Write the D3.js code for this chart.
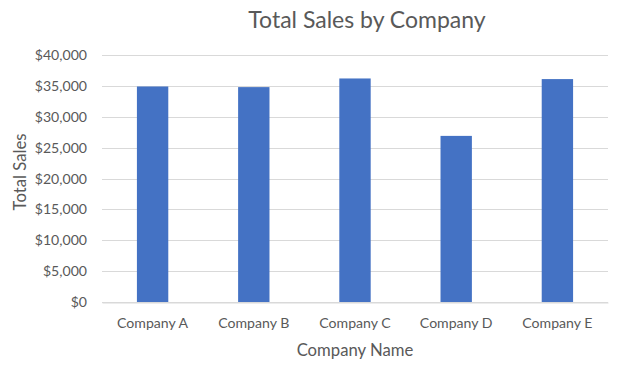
<!DOCTYPE html>
<html><head><meta charset="utf-8">
<script src="https://cdn.jsdelivr.net/npm/d3@7"></script>
<style>body{margin:0;background:#fff;} svg{display:block;} text{font-family:Lato,"Open Sans",sans-serif;}</style>
</head><body>
<svg id="c" width="624" height="369"></svg>
<script>
const categories = ["Company A","Company B","Company C","Company D","Company E"];
const sales = [34900, 34800, 36200, 26900, 36100];
const yTicks = [0,5000,10000,15000,20000,25000,30000,35000,40000];

const svg = d3.select("#c");
const m = {left:102, right:16, top:55, bottom:67};
const W = 624, H = 369;
const x = d3.scaleBand().domain(categories).range([m.left, W-m.right]).paddingInner(0.69).paddingOuter(0.345);
const y = d3.scaleLinear().domain([0,40000]).range([H-m.bottom, m.top]);
const fmt = v => "$" + d3.format(",")(v);

// gridlines
svg.append("g").selectAll("line").data(yTicks).join("line")
  .attr("x1", m.left).attr("x2", W-m.right)
  .attr("y1", d=>Math.round(y(d))+0.5).attr("y2", d=>Math.round(y(d))+0.5)
  .attr("stroke", "#d9d9d9").attr("stroke-width", 1);

// y axis labels
const yAxis = d3.axisLeft(y).tickValues(yTicks).tickFormat(fmt).tickSize(0).tickPadding(15);
const gy = svg.append("g").attr("transform", `translate(${m.left},0)`).call(yAxis);
gy.select(".domain").remove();
gy.selectAll("text").attr("fill","#595959").style("font-size","14.1px").style("font-family","Lato,'Open Sans',sans-serif");

// bars
svg.append("g").selectAll("rect").data(sales).join("rect")
  .attr("x", (d,i)=>x(categories[i])).attr("width", x.bandwidth())
  .attr("y", d=>y(d)).attr("height", d=>y(0)-y(d))
  .attr("fill", "#4472c4");

// x axis
const xAxis = d3.axisBottom(x).tickSize(0).tickPadding(15);
const gx = svg.append("g").attr("transform", `translate(0,${Math.round(y(0))+0.5})`).call(xAxis);
gx.select(".domain").attr("stroke","#d9d9d9");
gx.selectAll("text").attr("fill","#595959").style("font-size","14.1px").style("font-family","Lato,'Open Sans',sans-serif");

// titles
svg.append("text").attr("x", 367).attr("y", 28).attr("text-anchor","middle")
  .attr("fill","#595959").style("font-size","23px").text("Total Sales by Company");
svg.append("text").attr("x", 355).attr("y", 356).attr("text-anchor","middle")
  .attr("fill","#595959").style("font-size","16.7px").text("Company Name");
svg.append("text").attr("transform","translate(26,172) rotate(-90)").attr("text-anchor","middle")
  .attr("fill","#595959").style("font-size","16.7px").text("Total Sales");
</script>
</body></html>
